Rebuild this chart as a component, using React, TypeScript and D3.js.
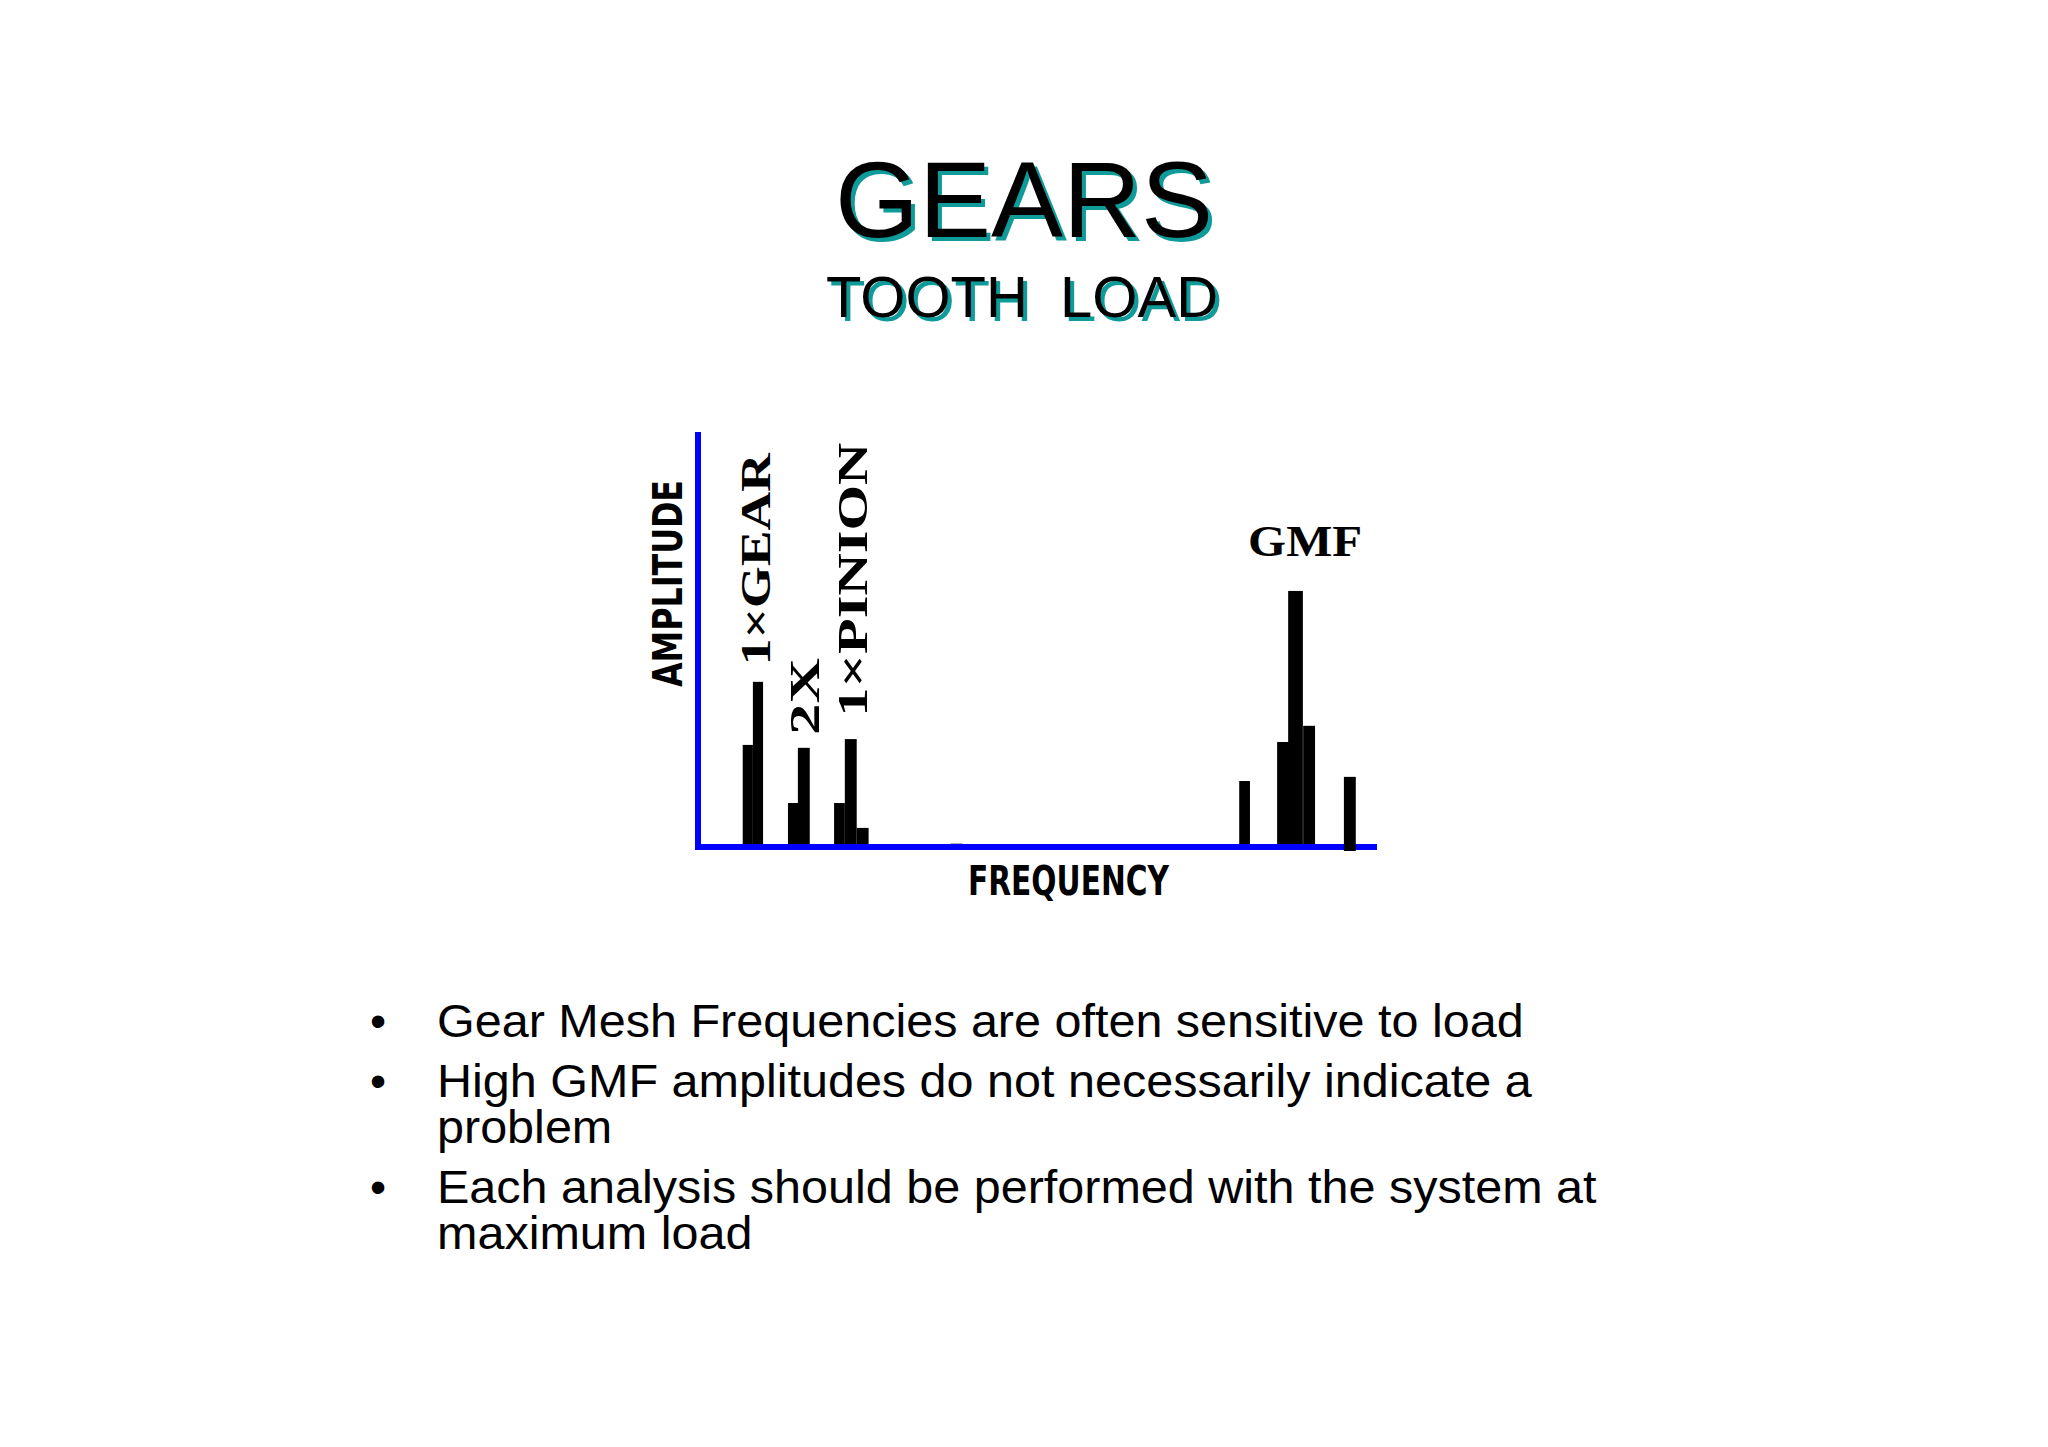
import React from "react";
import * as d3 from "d3";

// ---- Data ----
const barFreq = [8.8, 10.6, 16.8, 18.7, 25.0, 27.0, 29.1, 45.7, 96.6, 103.4, 105.6, 108.0, 115.2];
const barAmp = [24.6, 39.8, 10.6, 23.9, 10.6, 26.0, 4.6, 0.8, 15.9, 25.3, 61.7, 29.2, 16.9];
const barBin = [1.8, 1.8, 1.8, 2.1, 1.9, 2.1, 2.1, 2.1, 1.9, 2.1, 2.6, 2.1, 2.1];

const peakLabels = ["1×GEAR", "2X", "1×PINION"];
const peakLabelFreq = [12.8, 21.3, 29.8];
const peakLabelAmp = [43.8, 27.0, 31.4];
const peakLabelLen = [212, 77, 274];

const gmfLabel = "GMF";
const gmfFreq = 107.3;
const gmfAmp = 70.2;

const xDomain = [0, 120];
const yDomain = [0, 100];

const title = "GEARS";
const subtitle = "TOOTH  LOAD";
const xTitle = "FREQUENCY";
const yTitle = "AMPLITUDE";

const bulletItems = [
  ["Gear Mesh Frequencies are often sensitive to load"],
  ["High GMF amplitudes do not necessarily indicate a", "problem"],
  ["Each analysis should be performed with the system at", "maximum load"],
];

export default function App() {
  const x = d3.scaleLinear().domain(xDomain).range([698, 1377]);
  const y = d3.scaleLinear().domain(yDomain).range([847, 432]);
  const teal = "#109b9b";

  // bullet layout
  const lineH = 46;
  const bulletGap = 14;
  let base = 1037;
  const bulletEls: React.ReactNode[] = [];
  bulletItems.forEach((lines, i) => {
    bulletEls.push(
      <text key={"b" + i} x={378} y={base} textAnchor="middle" fontSize={46} fontFamily="'Liberation Sans', Arial, sans-serif">•</text>
    );
    bulletEls.push(
      <text key={"t" + i} transform={`translate(437,${base}) scale(1.055,1)`} fontSize={46} fontFamily="'Liberation Sans', Arial, sans-serif" fill="#000">
        {lines.map((ln, j) => (
          <tspan key={j} x={0} y={j * lineH}>{ln}</tspan>
        ))}
      </text>
    );
    base += lines.length * lineH + bulletGap;
  });

  return (
    <svg width={2048} height={1447} style={{ position: "absolute", left: 0, top: 0, background: "#fff" }}>
      <rect x={0} y={0} width={2048} height={1447} fill="#fff" />
      {/* Title */}
      <g fontFamily="'Liberation Sans', Arial, sans-serif" textAnchor="middle">
        <text x={1028} y={241} fontSize={108} fill={teal}>{title}</text>
        <text x={1024} y={237} fontSize={108} fill="#000">{title}</text>
        <text x={1026} y={321} fontSize={58} fill={teal} style={{ whiteSpace: "pre" }}>{subtitle}</text>
        <text x={1022} y={317} fontSize={58} fill="#000" style={{ whiteSpace: "pre" }}>{subtitle}</text>
      </g>

      {/* Bars */}
      <g>
        {barFreq.map((f, i) => {
          const x0 = x(f - barBin[i] / 2);
          const x1 = x(f + barBin[i] / 2);
          return <rect key={i} x={x0} y={y(barAmp[i])} width={x1 - x0} height={y(0) - y(barAmp[i])} fill="#000" />;
        })}
      </g>

      {/* Axes */}
      <line x1={x(0)} x2={x(0)} y1={y(100)} y2={y(0) + 3} stroke="#0000ff" strokeWidth={6} />
      <line x1={x(0) - 3} x2={x(120)} y1={y(0)} y2={y(0)} stroke="#0000ff" strokeWidth={6} />
      {/* last bar overlapping the axis */}
      {(() => {
        const i = barFreq.length - 1;
        const x0 = x(barFreq[i] - barBin[i] / 2);
        const x1 = x(barFreq[i] + barBin[i] / 2);
        return <rect x={x0} y={y(0) - 3} width={x1 - x0} height={7} fill="#000" />;
      })()}

      {/* Axis titles */}
      <text x={968} y={895} fontSize={40} fontWeight="bold" fontFamily="'DejaVu Sans', sans-serif" textLength={201} lengthAdjust="spacingAndGlyphs">{xTitle}</text>
      <text transform={`translate(682,687) rotate(-90)`} fontSize={40} fontWeight="bold" fontFamily="'DejaVu Sans', sans-serif" textLength={207} lengthAdjust="spacingAndGlyphs">{yTitle}</text>

      {/* Peak labels */}
      {peakLabels.map((lb, i) => {
        const bx = x(peakLabelFreq[i]);
        const by = y(peakLabelAmp[i]);
        return (
          <text key={lb} transform={`translate(${bx},${by}) rotate(-90)`} fontSize={42} fontWeight="bold" fontFamily="'Liberation Serif', 'Times New Roman', serif" textLength={peakLabelLen[i]} lengthAdjust="spacingAndGlyphs">{lb}</text>
        );
      })}
      <text x={x(gmfFreq)} y={y(gmfAmp)} textAnchor="middle" fontSize={44} fontWeight="bold" fontFamily="'Liberation Serif', 'Times New Roman', serif" textLength={114} lengthAdjust="spacingAndGlyphs">{gmfLabel}</text>

      {/* Bullets */}
      {bulletEls}
    </svg>
  );
}
